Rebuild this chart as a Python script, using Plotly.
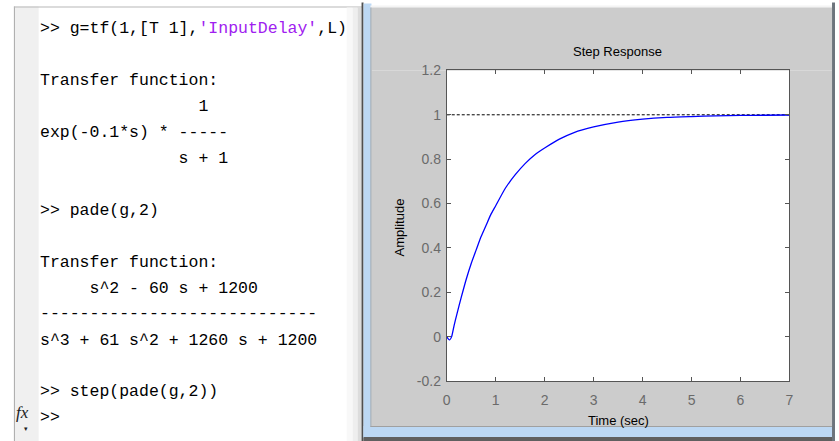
import plotly.graph_objects as go

W, H = 839, 441
# measured page capture: picture_y = 7.5 + 0.965 * figure_y (x is unchanged),
# so reference pixel rows are mapped back to figure rows below
VOFF, VSCALE = 7.5, 0.965

# ---- data ----
t_vals = [0, 0.03, 0.06, 0.1, 0.15, 0.2, 0.3, 0.4, 0.5, 0.6, 0.7, 0.8, 0.9, 1.0,
          1.2, 1.4, 1.6, 1.8, 2.0, 2.3, 2.6, 3.0, 3.5, 4.0, 4.5, 5.0, 5.5, 6.0, 6.5, 7.0]
amp_vals = [0, -0.01, -0.015, 0.0, 0.05, 0.095, 0.18, 0.26, 0.33, 0.39, 0.45, 0.50, 0.55, 0.59,
            0.67, 0.73, 0.78, 0.82, 0.85, 0.89, 0.92, 0.945, 0.967, 0.98, 0.988, 0.992, 0.995,
            0.997, 0.998, 0.999]
steady_t = [0, 7]
steady_val = [1, 1]

x_ticks = [0, 1, 2, 3, 4, 5, 6, 7]
x_tick_labels = ["0", "1", "2", "3", "4", "5", "6", "7"]
y_ticks = [-0.2, 0, 0.2, 0.4, 0.6, 0.8, 1.0, 1.2]
y_tick_labels = ["-0.2", "0", "0.2", "0.4", "0.6", "0.8", "1", "1.2"]

chart_title = "Step Response"
x_title = "Time (sec)"
y_title = "Amplitude"

# console lines: (row y px, list of (text, colour) segments)
console_lines = [
    (28, [(">> g=tf(1,[T 1],", "#000000"), ("'InputDelay'", "#A020F0"), (",L)", "#000000")]),
    (80, [("Transfer function:", "#000000")]),
    (106, [("                1", "#000000")]),
    (132, [("exp(-0.1*s) * -----", "#000000")]),
    (158, [("              s + 1", "#000000")]),
    (210, [(">> pade(g,2)", "#000000")]),
    (262, [("Transfer function:", "#000000")]),
    (288, [("     s^2 - 60 s + 1200", "#000000")]),
    (313, [("----------------------------", "#000000")]),
    (340, [("s^3 + 61 s^2 + 1260 s + 1200", "#000000")]),
    (392, [(">> step(pade(g,2))", "#000000")]),
    (418, [(">>", "#000000")]),
]


def X(px):
    return px / W


def Y(py):
    return 1 - ((py - VOFF) / VSCALE) / H


def rect(x0, y0, x1, y1, fill):
    return dict(type="rect", xref="paper", yref="paper",
                x0=X(x0), x1=X(x1), y0=Y(y1), y1=Y(y0),
                fillcolor=fill, line=dict(width=0), layer="below")


fig = go.Figure()

fig.add_trace(go.Scatter(x=steady_t, y=steady_val, mode="lines",
                         line=dict(color="black", width=1, dash="3px,2px"),
                         showlegend=False, hoverinfo="skip"))
fig.add_trace(go.Scatter(x=t_vals, y=amp_vals, mode="lines",
                         line=dict(color="#0000ff", width=1.3, shape="spline", smoothing=0.6),
                         showlegend=False))

AX0, AX1, AY0, AY1 = 447, 793, 70, 381

shapes = [
    # left pane
    rect(10, 6, 35, 445, "#f0f0f0"),
    rect(10, 6, 11, 445, "#a8a8a8"),
    rect(10, 6, 362, 7, "#b8b8b8"),
    rect(346, 7, 352, 445, "#f8f8f8"),
    rect(352, 7, 357, 445, "#eeeeee"),
    rect(357, 7, 361, 445, "#dcdcdc"),
    # separator & window frame
    rect(361, 2, 363, 445, "#505050"),
    rect(363, 3, 371, 438, "#bcd8f4"),
    rect(363, 426, 837, 438, "#bcd8f4"),
    rect(363, 437, 839, 445, "#606060"),
    rect(370, 5, 836, 7, "#f4f4f4"),
    rect(836, 2, 839, 445, "#6c747c"),
    # figure gray area around axes
    rect(371, 7, 836, AY0, "#cccccc"),
    rect(371, AY1, 836, 427, "#cccccc"),
    rect(371, AY0, AX0, AY1, "#cccccc"),
    rect(AX1, AY0, 836, AY1, "#cccccc"),
    rect(370, 7, 371, 427, "#a0a0a0"),
    rect(370, 426, 836, 427, "#a0a0a0"),
]

annotations = []
for py, segs in console_lines:
    html = "".join(
        "<span style='color:%s'>%s</span>" % (c, s.replace(" ", "\u00a0")) for s, c in segs)
    annotations.append(dict(
        x=X(34), y=Y(py), xref="paper", yref="paper", xanchor="left", yanchor="middle",
        text=html, showarrow=False,
        font=dict(family="Liberation Mono, Courier New, monospace", size=16.5, color="#000000")))

annotations.append(dict(x=X(19), y=Y(413), xref="paper", yref="paper", xanchor="center",
                        yanchor="middle", text="<i>fx</i>", showarrow=False,
                        font=dict(family="Liberation Serif, serif", size=17, color="#202020")))
annotations.append(dict(x=X(22), y=Y(429), xref="paper", yref="paper", xanchor="center",
                        yanchor="middle", text="▾", showarrow=False,
                        font=dict(family="DejaVu Sans", size=7, color="#202020")))

annotations.append(dict(x=X(619), y=Y(51), xref="paper", yref="paper", xanchor="center",
                        yanchor="middle", text=chart_title, showarrow=False,
                        font=dict(family="Liberation Sans, Arial", size=13, color="#000000")))
annotations.append(dict(x=X(620), y=Y(421), xref="paper", yref="paper", xanchor="center",
                        yanchor="middle", text=x_title, showarrow=False,
                        font=dict(family="Liberation Sans, Arial", size=13, color="#000000")))
annotations.append(dict(x=X(399), y=Y(227), xref="paper", yref="paper", xanchor="center",
                        yanchor="middle", text=y_title, showarrow=False, textangle=-90,
                        font=dict(family="Liberation Sans, Arial", size=13, color="#000000")))

axis_common = dict(showline=True, linecolor="#555555", linewidth=1, mirror="ticks",
                   ticks="inside", ticklen=4, tickcolor="#555555", showgrid=False,
                   zeroline=False, tickfont=dict(family="Liberation Sans, Arial", size=14,
                                                 color="#6a6a6a"))

fig.update_layout(
    width=W, height=H, margin=dict(l=0, r=0, t=0, b=0),
    paper_bgcolor="white", plot_bgcolor="white",
    shapes=shapes, annotations=annotations,
    xaxis=dict(domain=[X(AX0), X(AX1)], range=[0, 7], tickvals=x_ticks,
               ticktext=x_tick_labels, ticklabelstandoff=6, **axis_common),
    yaxis=dict(domain=[Y(AY1), Y(AY0)], range=[-0.2, 1.2], tickvals=y_ticks,
               ticktext=y_tick_labels, ticklabelstandoff=2, **axis_common),
)

fig.write_html("out.html")
